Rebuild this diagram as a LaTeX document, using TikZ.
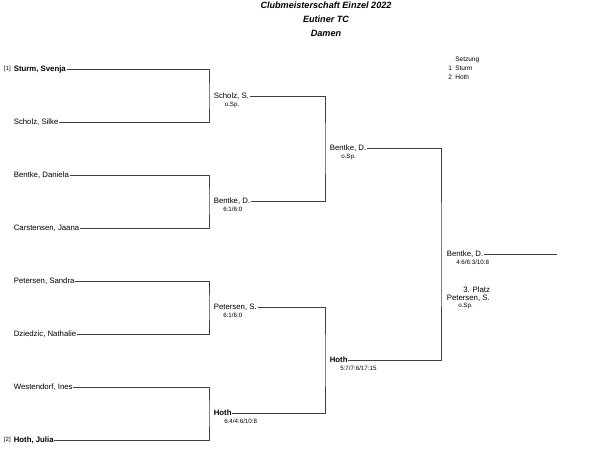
\documentclass[tikz,border=0pt]{standalone}
\usepackage{fontspec}
\setmainfont{Liberation Sans}
\usetikzlibrary{positioning}

\begin{document}
\begin{tikzpicture}[x=1pt, y=-1pt, line width=0.6pt,
    player/.style = {anchor=west, inner sep=0.5pt, font=\fontsize{7.8}{9}\selectfont, text height=5.6pt, text depth=1.6pt},
    seed/.style = {anchor=east, inner sep=0pt, font=\fontsize{6}{7}\selectfont},
    result/.style = {anchor=north west, inner sep=0pt, font=\fontsize{6.2}{7}\selectfont},
    bracket/.style = {draw=black!75}]
    \useasboundingbox (0,0) rectangle (604,459);

    % title
    \node[font=\fontsize{9.1}{14}\selectfont\bfseries\itshape, align=center, anchor=north] (title) at (326,-1.5)
        {Clubmeisterschaft Einzel 2022\\Eutiner TC\\Damen};

    % seeding
    \node[anchor=west, inner sep=0pt, font=\fontsize{6.5}{9}\selectfont, align=left] (seeding) at (448,68)
        {\hspace{7pt}Setzung\\1\hspace{3.4pt}Sturm\\2\hspace{3.4pt}Hoth};

    % first round
    \node[player] (p1) at (13,69) {\bfseries Sturm, Svenja};
    \node[player] (p2) at (13,122) {Scholz, Silke};
    \node[player] (p3) at (13,175) {Bentke, Daniela};
    \node[player] (p4) at (13,228) {Carstensen, Jaana};
    \node[player] (p5) at (13,281) {Petersen, Sandra};
    \node[player] (p6) at (13,334) {Dziedzic, Nathalie};
    \node[player] (p7) at (13,387) {Westendorf, Ines};
    \node[player] (p8) at (13,440) {\bfseries Hoth, Julia};
    \node[seed, left=2pt of p1] (s1) {[1]};
    \node[seed, left=2pt of p8] (s2) {[2]};

    % second round
    \node[player] (q1) at (213,96) {Scholz, S.};
    \node[player] (q2) at (213,201) {Bentke, D.};
    \node[player] (q3) at (213,307) {Petersen, S.};
    \node[player] (q4) at (213,413) {\bfseries Hoth};
    \node[result] (rq1) at ([xshift=11.5pt, yshift=-1pt]q1.south west) {o.Sp.};
    \node[result] (rq2) at ([xshift=10pt, yshift=-1pt]q2.south west) {6:1/6:0};
    \node[result] (rq3) at ([xshift=10pt, yshift=-1pt]q3.south west) {6:1/6:0};
    \node[result] (rq4) at ([xshift=11pt, yshift=-1pt]q4.south west) {6:4/4:6/10:8};

    % semi finals
    \node[player] (r1) at (329,148) {Bentke, D.};
    \node[player] (r2) at (329,360) {\bfseries Hoth};
    \node[result] (rr1) at ([xshift=12pt, yshift=-1pt]r1.south west) {o.Sp.};
    \node[result] (rr2) at ([xshift=11pt, yshift=-1pt]r2.south west) {5:7/7:6/17:15};

    % final
    \node[player] (w) at (446,254) {Bentke, D.};
    \node[result] (rw) at ([xshift=10pt, yshift=-1pt]w.south west) {4:6/6:3/10:8};
    \coordinate (wend) at (557,254);
    \node[anchor=west, inner sep=0pt, font=\fontsize{7.8}{9}\selectfont] (third) at (463,290) {3. Platz};
    \node[player] (t) at (446,298) {Petersen, S.};
    \node[result] (rt) at ([xshift=12pt, yshift=-0.5pt]t.south west) {o.Sp.};

    % brackets
    \coordinate (c1) at (209,96);
    \coordinate (c2) at (209,201);
    \coordinate (c3) at (209,307);
    \coordinate (c4) at (209,413);
    \coordinate (c5) at (325,148);
    \coordinate (c6) at (325,360);
    \coordinate (c7) at (441,254);
    \draw[bracket] (p1.east) -| (c1) |- (p2.east);
    \draw[bracket] (p3.east) -| (c2) |- (p4.east);
    \draw[bracket] (p5.east) -| (c3) |- (p6.east);
    \draw[bracket] (p7.east) -| (c4) |- (p8.east);
    \draw[bracket] (q1.east) -| (c5) |- (q2.east);
    \draw[bracket] (q3.east) -| (c6) |- (q4.east);
    \draw[bracket] (r1.east) -| (c7) |- (r2.east);
    \draw[bracket] (w.east) -- (wend);

\end{tikzpicture}
\end{document}
